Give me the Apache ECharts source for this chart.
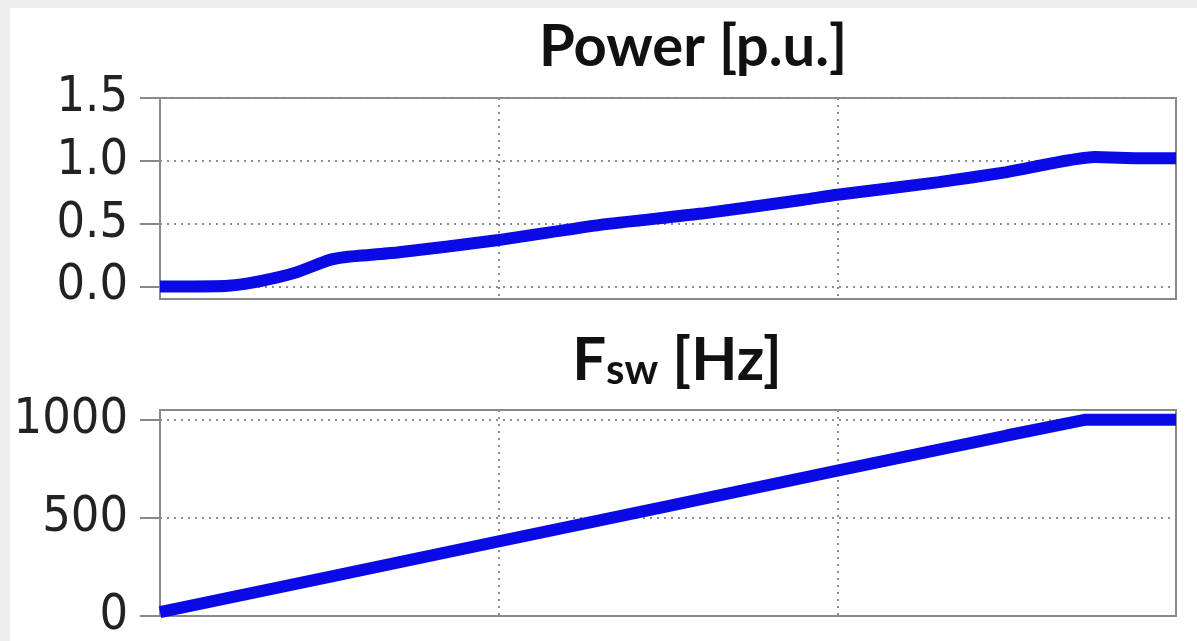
<!DOCTYPE html>
<html>
<head>
<meta charset="utf-8">
<script src="https://cdn.jsdelivr.net/npm/echarts@6/dist/echarts.min.js"></script>
<style>
html,body{margin:0;padding:0;background:#eeeeee;width:1197px;height:641px;overflow:hidden;}
#panel{position:absolute;left:10px;top:8px;width:1187px;height:633px;background:#ffffff;}
#chart{position:absolute;left:0;top:0;width:1197px;height:641px;}
</style>
</head>
<body>
<div id="panel"></div>
<div id="chart"></div>
<script>
// ---- data ----
const powerTitle = 'Power [p.u.]';
const timeTop = [0, 0.1, 0.2, 0.3, 0.4, 0.5, 0.55, 0.7, 1.0, 1.3, 1.6, 1.9, 2.0, 2.3, 2.5, 2.76, 2.9, 3.0];
const powerVals = [0, 0, 0.005, 0.045, 0.11, 0.21, 0.235, 0.27, 0.37, 0.49, 0.58, 0.69, 0.73, 0.83, 0.91, 1.03, 1.02, 1.02];
const timeBottom = [0, 0.5, 1.0, 1.5, 2.0, 2.5, 2.73, 3.0];
const fswVals = [20, 200, 380, 560, 741, 920, 1000, 1000];
const powerTicks = [0, 0.5, 1.0, 1.5];
const fswTicks = [0, 500, 1000];

const LABEL_FONT = "'DejaVu Sans Condensed', 'DejaVu Sans', sans-serif";
const TITLE_FONT = "Lato, 'Open Sans', sans-serif";
const lineColor = '#0a0ae6';

const chart = echarts.init(document.getElementById('chart'), null, {renderer: 'canvas'});

function yAxisCommon(ticks, fmt) {
  return {
    type: 'value',
    axisLine: {show: false},
    axisTick: {show: true, inside: false, length: 20, lineStyle: {color: '#888', width: 2}, customValues: ticks},
    axisLabel: {
      customValues: ticks, margin: 32, fontSize: 50, fontFamily: LABEL_FONT, color: '#222', formatter: fmt
    },
    splitLine: {show: true, lineStyle: {color: '#8e8e8e', width: 2, type: [2, 5]}}
  };
}
function xAxisCommon(gridIndex) {
  return {
    type: 'value', gridIndex: gridIndex, min: 0, max: 3, interval: 1,
    axisLine: {show: false}, axisTick: {show: false}, axisLabel: {show: false},
    splitLine: {show: true, lineStyle: {color: '#8e8e8e', width: 2, type: [2, 5]}}
  };
}

const option = {
  animation: false,
  title: [
    {
      text: powerTitle, left: 688, top: 13, textAlign: 'center',
      textStyle: {fontFamily: TITLE_FONT, fontWeight: 'bold', fontSize: 58, color: '#111'}
    },
    {
      text: '{a|F}{b|sw} {a|[Hz]}', left: 672, top: 326, textAlign: 'center',
      textStyle: {
        fontFamily: TITLE_FONT, fontWeight: 'bold', fontSize: 58, color: '#111',
        rich: {
          a: {fontFamily: TITLE_FONT, fontWeight: 'bold', fontSize: 60, color: '#111', verticalAlign: 'bottom'},
          b: {fontFamily: TITLE_FONT, fontWeight: 'bold', fontSize: 42, color: '#111', verticalAlign: 'bottom'}
        }
      }
    }
  ],
  grid: [
    {left: 160, top: 98, right: 21, height: 201, show: true, borderColor: '#888', borderWidth: 2, backgroundColor: 'transparent'},
    {left: 160, top: 410, right: 21, height: 206, show: true, borderColor: '#888', borderWidth: 2, backgroundColor: 'transparent'}
  ],
  xAxis: [xAxisCommon(0), xAxisCommon(1)],
  yAxis: [
    Object.assign(yAxisCommon(powerTicks, v => Number(v).toFixed(1)), {gridIndex: 0, min: -0.1, max: 1.5}),
    Object.assign(yAxisCommon(fswTicks, v => String(v)), {gridIndex: 1, min: 0, max: 1050})
  ],
  series: [
    {
      type: 'line', xAxisIndex: 0, yAxisIndex: 0, showSymbol: false, smooth: 0.2,
      lineStyle: {color: lineColor, width: 12}, itemStyle: {color: lineColor},
      data: timeTop.map((t, i) => [t, powerVals[i]])
    },
    {
      type: 'line', xAxisIndex: 1, yAxisIndex: 1, showSymbol: false,
      lineStyle: {color: lineColor, width: 12}, itemStyle: {color: lineColor},
      data: timeBottom.map((t, i) => [t, fswVals[i]])
    }
  ]
};
chart.setOption(option);
</script>
</body>
</html>
